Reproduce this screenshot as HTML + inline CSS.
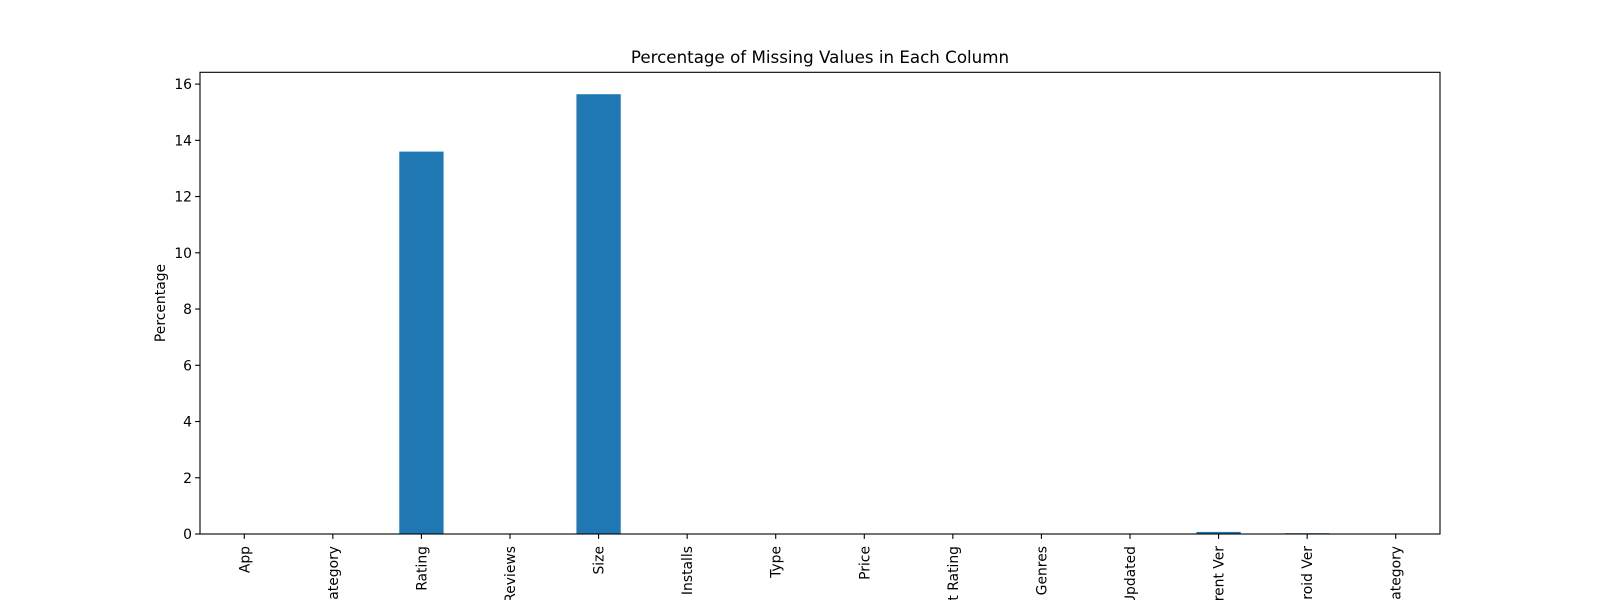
<!DOCTYPE html>
<html><head><meta charset="utf-8"><style>
html,body{margin:0;padding:0;background:#fff;width:1600px;height:600px;overflow:hidden;}
svg{display:block;overflow:hidden;font-family:"DejaVu Sans","Liberation Sans",sans-serif;}
</style></head><body>
<svg id="chart" width="1600" height="600" viewBox="0 0 1600 600">
<text x="820" y="63" font-size="16.7" text-anchor="middle">Percentage of Missing Values in Each Column</text>
<text transform="translate(165,303) rotate(-90)" font-size="13.9" text-anchor="middle">Percentage</text>
<g id="bars"></g><g id="yticks"></g><g id="xticks"></g>
<rect x="200" y="72.3" width="1240" height="461.7" fill="none" stroke="#000" stroke-width="1.1"/>
</svg>
<script>
const categories = ["App","Category","Rating","Reviews","Size","Installs","Type","Price","Content Rating","Genres","Last Updated","Current Ver","Android Ver","Category"];
const values = [0,0,13.60,0,15.64,0,0.009,0,0.009,0,0,0.074,0.028,0];
const yTicks = [0,2,4,6,8,10,12,14,16];
const NS="http://www.w3.org/2000/svg";
const L=200,R=1440,T=72.3,B=534,yMax=16.42;
const x=i=>L+(i+0.5)*(R-L)/categories.length;
const y=v=>B-v*(B-T)/yMax;
const bw=0.5*(R-L)/categories.length;
function mk(tag,attrs,parent){const e=document.createElementNS(NS,tag);for(const k in attrs)e.setAttribute(k,attrs[k]);document.getElementById(parent).appendChild(e);return e;}
values.forEach((v,i)=>{
  const r=mk('rect',{x:x(i)-bw/2,y:y(v),width:bw,height:B-y(v),fill:'#1f77b4'},'bars');
  
  
});
yTicks.forEach(t=>{
  const ln=mk('line',{x1:L-4.9,x2:L,y1:y(t),y2:y(t),stroke:'#000','stroke-width':1.1},'yticks');
  
  
  const tx=mk('text',{x:L-8,y:y(t)+5,'font-size':13.9,'text-anchor':'end'},'yticks');
  tx.textContent=t;
  
  
});
categories.forEach((c,i)=>{
  const ln=mk('line',{x1:x(i),x2:x(i),y1:B,y2:B+4.9,stroke:'#000','stroke-width':1.1},'xticks');
  
  
  const tx=mk('text',{transform:'translate('+(x(i)+5)+','+(B+12)+') rotate(-90)','font-size':13.9,'text-anchor':'end'},'xticks');
  tx.textContent=c;
  
  
});
</script>
</body></html>
